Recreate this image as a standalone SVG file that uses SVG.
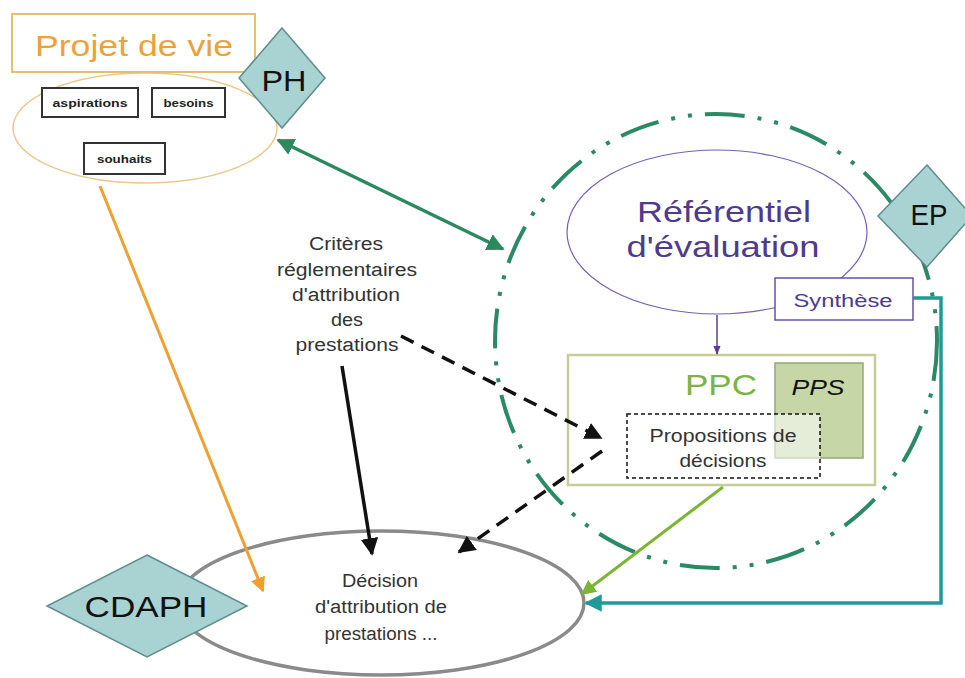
<svg xmlns="http://www.w3.org/2000/svg" width="965" height="678" viewBox="0 0 965 678">
<style>
  text { font-family: "Liberation Sans", Arial, sans-serif; }
  .diamond { fill: #a9d3d3; stroke: #5f8c8c; stroke-width: 1.5; }
  .dtext { font-size: 30px; fill: #111; text-anchor: middle; }
  .small { font-size: 11px; fill: #222; text-anchor: middle; font-weight: bold; }
  .sbox { fill: #fff; stroke: #333; stroke-width: 2; }
  .body { font-size: 18px; fill: #333; text-anchor: middle; }
  .purple { fill: #4e3a8e; }
</style>
<defs>
  <marker id="mOrange" viewBox="0 0 10 10" refX="9" refY="5" markerWidth="5" markerHeight="5" orient="auto"><path d="M0,0 L10,5 L0,10 z" fill="#f0a030"/></marker>
  <marker id="mGreen" viewBox="0 0 10 10" refX="9" refY="5" markerWidth="5" markerHeight="5" orient="auto-start-reverse"><path d="M0,0 L10,5 L0,10 z" fill="#2a8a5e"/></marker>
  <marker id="mBlack" viewBox="0 0 10 10" refX="9" refY="5" markerWidth="5" markerHeight="5" orient="auto"><path d="M0,0 L10,5 L0,10 z" fill="#111"/></marker>
  <marker id="mPurple" viewBox="0 0 10 10" refX="9" refY="5" markerWidth="6" markerHeight="6" orient="auto"><path d="M0,1 L10,5 L0,9 z" fill="#5a3d9a"/></marker>
  <marker id="mLime" viewBox="0 0 10 10" refX="9" refY="5" markerWidth="5" markerHeight="5" orient="auto"><path d="M0,0 L10,5 L0,10 z" fill="#7ab534"/></marker>
  <marker id="mTeal" viewBox="0 0 10 10" refX="9" refY="5" markerWidth="5" markerHeight="5" orient="auto"><path d="M0,0 L10,5 L0,10 z" fill="#1f9a98"/></marker>
</defs>

<!-- EP boundary (dash-dot circle) -->
<g id="ep-zone">
  <ellipse cx="716" cy="341" rx="221" ry="227" fill="none" stroke="#2a8a64" stroke-width="4" stroke-dasharray="40 13 4 13 4 13"/>
</g>

<g id="projet-de-vie">
  <ellipse cx="145" cy="128" rx="132" ry="55" fill="#fff" stroke="#ecc88c" stroke-width="1.5"/>
  <rect x="12" y="14" width="243" height="58" fill="#fff" stroke="#e2c070" stroke-width="2"/>
  <text x="134" y="56" font-size="30" fill="#eba23a" text-anchor="middle" textLength="198" lengthAdjust="spacingAndGlyphs">Projet de vie</text>
</g>
<g id="aspirations">
  <rect class="sbox" x="42" y="88" width="96" height="29"/>
  <text class="small" x="90" y="107" textLength="75" lengthAdjust="spacingAndGlyphs">aspirations</text>
</g>
<g id="besoins">
  <rect class="sbox" x="152" y="88" width="73" height="29"/>
  <text class="small" x="188.5" y="107" textLength="50" lengthAdjust="spacingAndGlyphs">besoins</text>
</g>
<g id="souhaits">
  <rect class="sbox" x="84" y="143" width="81" height="31"/>
  <text class="small" x="124.5" y="163" textLength="55" lengthAdjust="spacingAndGlyphs">souhaits</text>
</g>

<g id="PH">
  <polygon class="diamond" points="282,28 325,78 282,128 239,78"/>
  <text class="dtext" x="284" y="91" font-size="32" textLength="45" lengthAdjust="spacingAndGlyphs">PH</text>
</g>

<g id="referentiel">
  <ellipse cx="717" cy="232" rx="150" ry="82" fill="#fff" stroke="#7a5fb0" stroke-width="1.2"/>
  <text class="purple" x="724" y="222" font-size="30" text-anchor="middle" textLength="174" lengthAdjust="spacingAndGlyphs">Référentiel</text>
  <text class="purple" x="723" y="257" font-size="30" text-anchor="middle" textLength="193" lengthAdjust="spacingAndGlyphs">d'évaluation</text>
</g>
<g id="synthese">
  <rect x="775" y="278" width="138" height="42" fill="#fff" stroke="#6a4fa8" stroke-width="1.5"/>
  <text class="purple" x="843" y="307" font-size="18" text-anchor="middle" textLength="99" lengthAdjust="spacingAndGlyphs">Synthèse</text>
</g>

<g id="EP">
  <polygon class="diamond" points="927,165 972,216 927,267 878,216"/>
  <text class="dtext" x="929" y="225" font-size="30" textLength="37" lengthAdjust="spacingAndGlyphs">EP</text>
</g>

<g id="PPC">
  <rect x="568" y="355" width="307" height="130" fill="#fff" stroke="#c9cc98" stroke-width="2.5"/>
  <text x="721" y="395" font-size="30" fill="#7ab542" text-anchor="middle" textLength="72" lengthAdjust="spacingAndGlyphs">PPC</text>
</g>
<g id="PPS">
  <rect x="775" y="363" width="88" height="95" fill="#c6d6a6" stroke="#93a878" stroke-width="1.5"/>
  <text x="818" y="395" font-size="22" font-style="italic" fill="#111" text-anchor="middle" textLength="53" lengthAdjust="spacingAndGlyphs">PPS</text>
</g>
<g id="propositions">
  <rect x="627" y="414" width="193" height="64" fill="#fff" fill-opacity="0.55" stroke="#111" stroke-width="1.5" stroke-dasharray="4 3"/>
  <text class="body" x="723" y="442" textLength="147" lengthAdjust="spacingAndGlyphs">Propositions de</text>
  <text class="body" x="723" y="467" textLength="87" lengthAdjust="spacingAndGlyphs">décisions</text>
</g>

<g id="criteres">
  <text class="body" x="346" y="250" textLength="74" lengthAdjust="spacingAndGlyphs">Critères</text>
  <text class="body" x="347" y="276" textLength="140" lengthAdjust="spacingAndGlyphs">réglementaires</text>
  <text class="body" x="346" y="301" textLength="108" lengthAdjust="spacingAndGlyphs">d'attribution</text>
  <text class="body" x="347" y="326" textLength="32" lengthAdjust="spacingAndGlyphs">des</text>
  <text class="body" x="347" y="351" textLength="103" lengthAdjust="spacingAndGlyphs">prestations</text>
</g>

<g id="decision">
  <ellipse cx="381" cy="603" rx="203" ry="72" fill="#fff" stroke="#8a8a8a" stroke-width="3.5"/>
  <text class="body" x="380" y="587" textLength="76" lengthAdjust="spacingAndGlyphs">Décision</text>
  <text class="body" x="381" y="613" textLength="132" lengthAdjust="spacingAndGlyphs">d'attribution de</text>
  <text class="body" x="381" y="640" textLength="113" lengthAdjust="spacingAndGlyphs">prestations ...</text>
</g>

<g id="CDAPH">
  <polygon class="diamond" points="147,555 247,606 147,657 47,606"/>
  <text class="dtext" x="146" y="617" textLength="123" lengthAdjust="spacingAndGlyphs">CDAPH</text>
</g>

<g id="connectors" fill="none">
  <line x1="100" y1="186" x2="263" y2="591" stroke="#f0a030" stroke-width="3" marker-end="url(#mOrange)"/>
  <line x1="278" y1="140" x2="503" y2="249" stroke="#2a8a5e" stroke-width="3.5" marker-start="url(#mGreen)" marker-end="url(#mGreen)"/>
  <line x1="342" y1="366" x2="372" y2="554" stroke="#111" stroke-width="3.5" marker-end="url(#mBlack)"/>
  <line x1="401" y1="336" x2="601" y2="438" stroke="#111" stroke-width="3.5" stroke-dasharray="14 9" marker-end="url(#mBlack)"/>
  <line x1="602" y1="451" x2="459" y2="552" stroke="#111" stroke-width="3.5" stroke-dasharray="14 9" marker-end="url(#mBlack)"/>
  <line x1="717" y1="315" x2="717" y2="354" stroke="#5a3d9a" stroke-width="1.5" marker-end="url(#mPurple)"/>
  <line x1="723" y1="487" x2="582" y2="594" stroke="#7ab534" stroke-width="3" marker-end="url(#mLime)"/>
  <polyline points="913,298 941,298 941,603 586,603" stroke="#1f9a98" stroke-width="3.5" marker-end="url(#mTeal)"/>
</g>
</svg>
